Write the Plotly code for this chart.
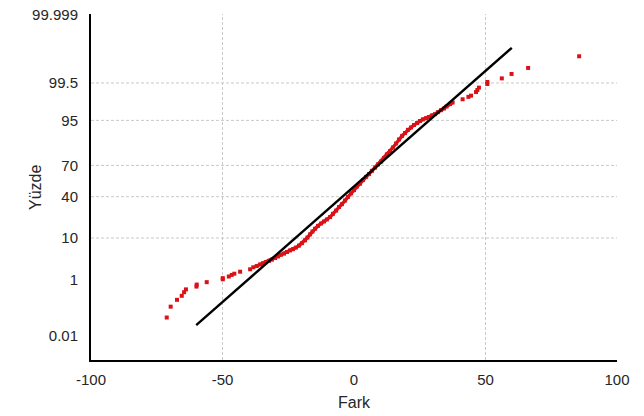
from statistics import NormalDist
import plotly.graph_objects as go

# ---- data ----
fark = [
    -71.2, -69.7, -67.3, -65.5, -64.6, -63.9, -59.9, -59.8, -56.0, -49.9,
    -49.9, -47.6, -46.5, -45.5, -43.3, -39.5, -38.3, -37.0, -35.7, -34.6,
    -33.5, -32.3, -31.2, -30.0, -28.9, -27.8, -26.6, -25.5, -24.3, -23.2,
    -22.1, -20.9, -19.8, -18.6, -17.7, -16.7, -15.8, -14.8, -13.7, -12.5,
    -11.4, -10.3, -9.1, -8.0, -6.8, -5.7, -4.6, -3.4, -2.3, -1.1,
    0.0, 1.1, 2.3, 3.4, 4.6, 5.7, 6.8, 8.0, 9.1, 10.3,
    11.4, 12.5, 13.7, 14.8, 16.0, 17.1, 18.3, 19.4, 20.5, 21.7,
    22.8, 24.0, 25.1, 26.2, 27.4, 28.5, 29.7, 30.8, 31.9, 33.1,
    34.2, 35.2, 36.5, 37.5, 41.3, 43.5, 44.5, 46.4, 46.9, 47.5,
    50.7, 50.7, 56.2, 59.9, 66.2, 85.6,
]
normal_score = [
    -3.26, -2.99, -2.82, -2.72, -2.63, -2.56, -2.49, -2.44, -2.38, -2.31,
    -2.28, -2.24, -2.20, -2.17, -2.12, -2.06, -2.01, -1.98, -1.94, -1.91,
    -1.88, -1.85, -1.82, -1.78, -1.74, -1.70, -1.67, -1.63, -1.59, -1.56,
    -1.52, -1.47, -1.41, -1.34, -1.27, -1.19, -1.12, -1.05, -0.98, -0.92,
    -0.87, -0.82, -0.76, -0.68, -0.60, -0.51, -0.44, -0.35, -0.26, -0.17,
    -0.09, 0.00, 0.07, 0.16, 0.24, 0.31, 0.39, 0.47, 0.55, 0.62,
    0.71, 0.80, 0.88, 0.97, 1.07, 1.17, 1.26, 1.33, 1.41, 1.47,
    1.53, 1.58, 1.63, 1.67, 1.70, 1.73, 1.77, 1.80, 1.85, 1.90,
    1.94, 1.99, 2.05, 2.09, 2.17, 2.23, 2.26, 2.35, 2.40, 2.46,
    2.55, 2.60, 2.69, 2.80, 2.95, 3.24,
]
fit_x = [-60, 60]
fit_score = [-3.45, 3.45]

x_ticks = [-100, -50, 0, 50, 100]
x_grid = [-50, 50]
y_tick_pct = [0.01, 1, 10, 40, 70, 95, 99.5, 99.999]
y_tick_text = ["0.01", "1", "10", "40", "70", "95", "99.5", "99.999"]
y_grid_pct = [10, 40, 70, 95, 99.5]

nd = NormalDist()
y_tickvals = [nd.inv_cdf(p / 100) for p in y_tick_pct]
y_gridvals = [nd.inv_cdf(p / 100) for p in y_grid_pct]

# the densely packed middle of the sample (points overlap into a solid band)
dense = slice(17, 84)

FONT = "Liberation Sans, Arial, sans-serif"
GRID = "#c9c9c9"
TXT = "#262626"
RED = "#da1218"

fig = go.Figure()
fig.add_trace(go.Scatter(
    x=fark[dense], y=normal_score[dense], mode="lines",
    line=dict(color=RED, width=3.4),
    showlegend=False, hoverinfo="skip",
))
fig.add_trace(go.Scatter(
    x=fark, y=normal_score, mode="markers",
    marker=dict(symbol="square", size=4, color=RED, line=dict(width=0)),
    showlegend=False, hoverinfo="skip",
))
fig.add_trace(go.Scatter(
    x=fit_x, y=fit_score, mode="lines",
    line=dict(color="black", width=2.4),
    showlegend=False, hoverinfo="skip",
))

shapes = []
for gx in x_grid:
    shapes.append(dict(type="line", xref="x", yref="paper", x0=gx, x1=gx, y0=0, y1=1,
                       line=dict(color=GRID, width=1, dash="3px,2px"), layer="below"))
for gy in y_gridvals:
    shapes.append(dict(type="line", xref="paper", yref="y", x0=0, x1=1, y0=gy, y1=gy,
                       line=dict(color=GRID, width=1, dash="3px,2px"), layer="below"))

annotations = [
    dict(text="Fark", x=0.5, y=-0.124, xref="paper", yref="paper",
         xanchor="center", yanchor="middle", showarrow=False,
         font=dict(size=16, color=TXT, family=FONT)),
    dict(text="Yüzde", x=-0.1065, y=0.5, xref="paper", yref="paper",
         xanchor="center", yanchor="middle", showarrow=False, textangle=-90,
         font=dict(size=16, color=TXT, family=FONT)),
]

fig.update_layout(
    width=644, height=416,
    margin=dict(l=91, r=27, t=14, b=56),
    paper_bgcolor="white", plot_bgcolor="white",
    font=dict(family=FONT, color=TXT, size=15),
    shapes=shapes,
    annotations=annotations,
    xaxis=dict(
        range=[-100, 100], tickvals=x_ticks, ticktext=[str(v) for v in x_ticks],
        showgrid=False, zeroline=False, automargin=False,
        showline=True, linecolor="black", linewidth=2,
        ticks="outside", ticklen=5, tickcolor="rgba(0,0,0,0)",
        tickfont=dict(size=15),
    ),
    yaxis=dict(
        range=[-4.317, 4.292], tickvals=y_tickvals, ticktext=y_tick_text,
        showgrid=False, zeroline=False, automargin=False,
        showline=True, linecolor="black", linewidth=2,
        ticks="outside", ticklen=8, tickcolor="rgba(0,0,0,0)",
        tickfont=dict(size=15), ticklabeloverflow="allow",
    ),
)

fig.write_html("out.html", config={"displayModeBar": False},
               post_script="document.body.style.margin='0px';")
